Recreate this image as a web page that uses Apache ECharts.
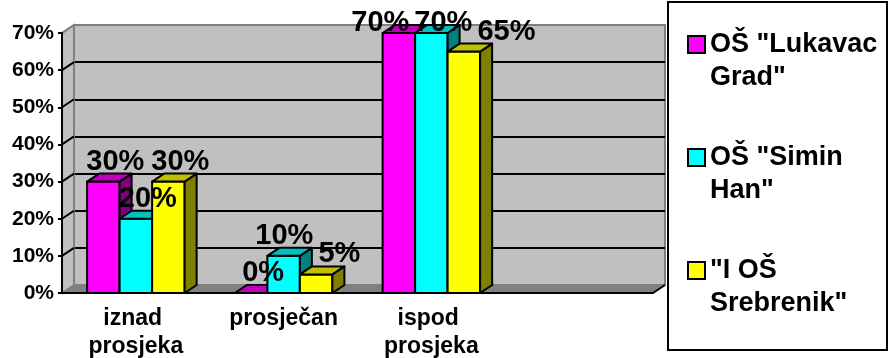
<!DOCTYPE html>
<html>
<head>
<meta charset="utf-8">
<script src="https://cdn.jsdelivr.net/npm/echarts@6/dist/echarts.min.js"></script>
<style>
  html, body { margin: 0; padding: 0; background: #fff; }
  #chart { width: 889px; height: 358px; }
</style>
</head>
<body>
<div id="chart"></div>
<script>
// Categories and results per school (percent)
const categories = ['iznad prosjeka', 'prosječan', 'ispod prosjeka', ''];
const schools = ['OŠ "Lukavac\nGrad"', 'OŠ "Simin\nHan"', '"I OŠ\nSrebrenik"'];
const lukavacGrad = [30, 0, 70];
const siminHan = [20, 10, 70];
const srebrenik = [30, 5, 65];
const yMin = 0, yMax = 70, yStep = 10;

const seriesValues = [lukavacGrad, siminHan, srebrenik];

// Box colours: front, top and side faces
const frontColors = ['#FF00FF', '#00FFFF', '#FFFF00'];
const topColors = ['#C000C0', '#00C0C0', '#C0C000'];
const sideColors = ['#800080', '#008080', '#808000'];

const FONT = '"Liberation Sans", Arial, sans-serif';
const DX = 12, DY = 8;          // depth offset of the pseudo-3D boxes and walls
const BAR_FRAC = 0.22;          // bar width as a share of a category band
const LABEL_SIZE = 29, LABEL_DX = 12, LABEL_RISE = 20, LABEL_MIN_Y = 23, LABEL_H = 30, LABEL_GAP = 5;

const measureCtx = document.createElement('canvas').getContext('2d');
function textWidth(t, size) {
  measureCtx.font = 'bold ' + size + 'px ' + FONT;
  return measureCtx.measureText(t).width;
}

// Bar box: front rectangle, top and right faces
function barRenderer(k) {
  return function (params, api) {
    const i = api.value(0), v = api.value(1);
    const base = api.coord([i, 0]);
    const top = api.coord([i, v]);
    const bw = api.size([1, 0])[0] * BAR_FRAC;
    const xl = base[0] - 1.5 * bw + k * bw, xr = xl + bw;
    const y0 = base[1], y1 = top[1];
    const edge = { stroke: '#000', lineWidth: 2, lineJoin: 'round' };
    const children = [];
    if (v > 0) {
      children.push({ type: 'rect', shape: { x: xl, y: y1, width: bw, height: y0 - y1 },
        style: Object.assign({ fill: frontColors[k] }, edge) });
      children.push({ type: 'polygon', shape: { points: [[xr, y1], [xr + DX, y1 - DY], [xr + DX, y0 - DY], [xr, y0]] },
        style: Object.assign({ fill: sideColors[k] }, edge) });
    }
    children.push({ type: 'polygon', shape: { points: [[xl, y1], [xr, y1], [xr + DX, y1 - DY], [xl + DX, y1 - DY]] },
      style: Object.assign({ fill: topColors[k] }, edge) });
    return { type: 'group', children: children };
  };
}

// Value labels of one category, pushed apart sideways where they collide
function labelBoxes(i, api) {
  const bw = api.size([1, 0])[0] * BAR_FRAC;
  const boxes = seriesValues.map(function (vals, k) {
    const v = vals[i];
    const p = api.coord([i, v]);
    const xl = p[0] - 1.5 * bw + k * bw;
    const text = v + '%';
    return { text: text, cx: xl + bw / 2 + LABEL_DX, cy: Math.max(p[1] - LABEL_RISE, LABEL_MIN_Y), w: textWidth(text, LABEL_SIZE) };
  });
  for (let iter = 0; iter < 40; iter++) {
    for (let a = 0; a < boxes.length; a++) {
      for (let b = a + 1; b < boxes.length; b++) {
        const A = boxes[a], B = boxes[b];
        if (Math.abs(A.cy - B.cy) >= LABEL_H) continue;
        const ov = (A.cx + A.w / 2 + LABEL_GAP) - (B.cx - B.w / 2);
        if (ov > 0.01) { A.cx -= ov / 2; B.cx += ov / 2; }
      }
    }
  }
  return boxes;
}

function renderLabel(params, api) {
  const i = api.value(0), k = api.value(2);
  const b = labelBoxes(i, api)[k];
  return { type: 'text', x: b.cx, y: b.cy,
    style: { text: b.text, font: 'bold ' + LABEL_SIZE + 'px ' + FONT, fill: '#000', align: 'center', verticalAlign: 'middle' } };
}

// Side wall and floor of the plot box
function renderWalls(params, api) {
  const catW = api.size([1, 0])[0];
  const left = api.coord([0, yMin])[0] - catW / 2;
  const right = api.coord([categories.length - 1, yMin])[0] + catW / 2;
  const y0 = api.coord([0, yMin])[1];
  const yTop = api.coord([0, yMax])[1];
  const children = [
    { type: 'polygon', shape: { points: [[left, y0], [left, yTop], [left + DX, yTop - DY], [left + DX, y0 - DY]] },
      style: { fill: '#C0C0C0', stroke: '#808080', lineWidth: 2 } },
    { type: 'polygon', shape: { points: [[left, y0], [right, y0], [right + DX, y0 - DY], [left + DX, y0 - DY]] },
      style: { fill: '#808080', stroke: '#808080', lineWidth: 1 } },
    { type: 'line', shape: { x1: right, y1: y0, x2: right + DX, y2: y0 - DY },
      style: { stroke: '#000', lineWidth: 2 } }
  ];
  for (let v = yMin + yStep; v <= yMax; v += yStep) {
    const y = api.coord([0, v])[1];
    children.push({ type: 'line', shape: { x1: left, y1: y, x2: left + DX, y2: y - DY },
      style: { stroke: v === yMax ? '#808080' : '#000', lineWidth: 2 } });
  }
  return { type: 'group', children: children };
}

const gridLineColors = ['#808080'];
for (let v = yMin + yStep; v < yMax; v += yStep) gridLineColors.push('#000');
gridLineColors.push('#808080');

const labelData = [];
seriesValues.forEach(function (vals, k) {
  vals.forEach(function (v, i) { labelData.push([i, v, k]); });
});

const chart = echarts.init(document.getElementById('chart'), null, { renderer: 'canvas' });
chart.setOption({
  animation: false,
  backgroundColor: '#fff',
  textStyle: { fontFamily: FONT },
  grid: [
    { left: 62, top: 33, width: 591, height: 260, outerBoundsMode: 'none', containLabel: false },
    { left: 74, top: 25, width: 591, height: 260, outerBoundsMode: 'none', containLabel: false, show: true,
      backgroundColor: '#C0C0C0', borderColor: '#808080', borderWidth: 2 }
  ],
  xAxis: [
    { type: 'category', gridIndex: 0, data: categories, z: 3,
      axisLine: { lineStyle: { color: '#000', width: 2 } },
      axisTick: { length: 5, alignWithLabel: false, lineStyle: { color: '#000', width: 2 } },
      axisLabel: { color: '#000', fontSize: 23, fontWeight: 'bold', fontFamily: FONT, lineHeight: 28,
        margin: 12, width: 140, overflow: 'break', interval: 0 } },
    { type: 'value', gridIndex: 1, show: false }
  ],
  yAxis: [
    { type: 'value', gridIndex: 0, min: yMin, max: yMax, interval: yStep, z: 3,
      axisLine: { show: true, lineStyle: { color: '#000', width: 2 } },
      axisTick: { show: true, length: 4, lineStyle: { color: '#000', width: 2 } },
      splitLine: { show: false },
      axisLabel: { color: '#000', fontSize: 21, fontWeight: 'bold', fontFamily: FONT, margin: 8, formatter: '{value}%' } },
    { type: 'value', gridIndex: 1, min: yMin, max: yMax, interval: yStep,
      axisLine: { show: false }, axisTick: { show: false }, axisLabel: { show: false },
      splitLine: { show: true, lineStyle: { color: gridLineColors, width: 2 } } }
  ],
  legend: {
    data: schools,
    orient: 'vertical',
    left: 687, top: -5,
    padding: 0,
    itemGap: 14,
    itemWidth: 17, itemHeight: 17,
    icon: 'rect',
    itemStyle: { borderColor: '#000', borderWidth: 2 },
    // an empty first line keeps the swatch level with the first text line
    formatter: function (name) { return '{gap| }\n' + name; },
    textStyle: { color: '#000', fontSize: 27, fontWeight: 'bold', fontFamily: FONT, lineHeight: 33,
      rich: { gap: { fontSize: 27, lineHeight: 33 } } }
  },
  graphic: [
    { type: 'rect', z: 0, shape: { x: 668, y: 2, width: 219, height: 348 },
      style: { fill: '#fff', stroke: '#000', lineWidth: 2 } }
  ],
  series: [
    { type: 'custom', name: 'walls', silent: true, z: 1, xAxisIndex: 0, yAxisIndex: 0,
      data: [[0, yMin]], encode: { x: 0, y: 1 }, renderItem: renderWalls }
  ].concat(seriesValues.map(function (vals, k) {
    return { type: 'custom', name: schools[k], z: 2, xAxisIndex: 0, yAxisIndex: 0,
      itemStyle: { color: frontColors[k], borderColor: '#000', borderWidth: 2 },
      data: vals.map(function (v, i) { return [i, v]; }), encode: { x: 0, y: 1 },
      renderItem: barRenderer(k) };
  })).concat([
    { type: 'custom', name: 'values', silent: true, z: 4, xAxisIndex: 0, yAxisIndex: 0,
      data: labelData, encode: { x: 0, y: 1 }, renderItem: renderLabel }
  ])
});
</script>
</body>
</html>
